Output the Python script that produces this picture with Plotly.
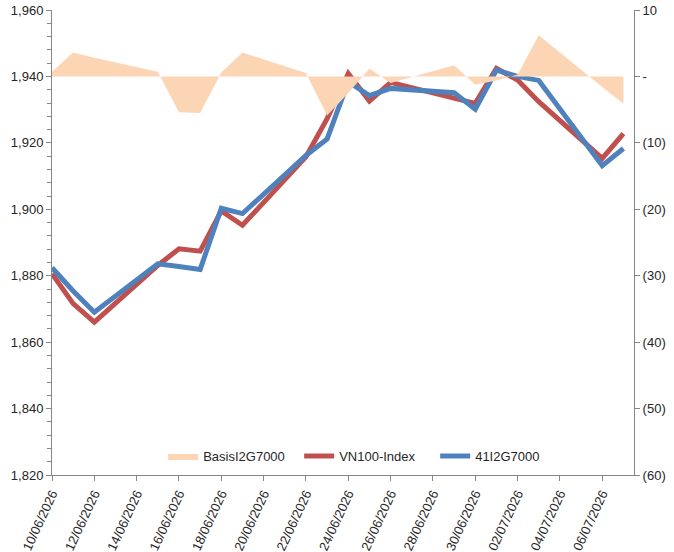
import plotly.graph_objects as go

dates = ["2026-06-10", "2026-06-11", "2026-06-12", "2026-06-15", "2026-06-16", "2026-06-17",
         "2026-06-18", "2026-06-19", "2026-06-22", "2026-06-23", "2026-06-24", "2026-06-25",
         "2026-06-26", "2026-06-29", "2026-06-30", "2026-07-01", "2026-07-02", "2026-07-03",
         "2026-07-06", "2026-07-07"]

vn100 = [1880.6, 1871.6, 1866.0, 1883.1, 1888.1, 1887.4, 1899.5, 1895.2, 1915.8, 1927.3,
         1940.9, 1932.6, 1938.2, 1933.4, 1931.9, 1942.4, 1938.9, 1932.4, 1915.3, 1922.8]

fut = [1882.4, 1875.4, 1869.0, 1883.6, 1882.8, 1881.9, 1900.3, 1898.7, 1916.2, 1921.2,
       1938.4, 1934.2, 1936.4, 1935.1, 1930.1, 1941.9, 1940.0, 1938.8, 1913.1, 1918.3]

basis = [0.7, 3.6, 2.8, 0.7, -5.4, -5.5, 0.6, 3.6, 0.5, -5.9,
         -2.5, 1.2, -1.0, 1.7, -1.25, -0.6, 0.3, 6.2, -1.6, -4.1]

series_names = ["BasisI2G7000", "VN100-Index", "41I2G7000"]

right_tick_vals = [10, 0, -10, -20, -30, -40, -50, -60]
right_tick_text = ["10", "-", "(10)", "(20)", "(30)", "(40)", "(50)", "(60)"]

FONT = "Liberation Sans, Arial, sans-serif"
TXT = "#262626"
AX = "#868686"

fig = go.Figure()
fig.add_trace(go.Scatter(x=dates, y=basis, name=series_names[0], yaxis="y2",
                         mode="lines", fill="tozeroy", fillcolor="#FCD5B4",
                         line=dict(width=0, color="#FCD5B4")))
fig.add_trace(go.Scatter(x=dates, y=vn100, name=series_names[1], mode="lines",
                         line=dict(color="#C0504D", width=5)))
fig.add_trace(go.Scatter(x=dates, y=fut, name=series_names[2], mode="lines",
                         line=dict(color="#4F81BD", width=5)))

fig.update_layout(
    width=674, height=552,
    margin=dict(l=52, r=40, t=10, b=77),
    paper_bgcolor="white", plot_bgcolor="white",
    font=dict(family=FONT, size=13, color=TXT),
    showlegend=True,
    legend=dict(orientation="h", x=0.191, xanchor="left", y=0.041, yanchor="middle",
                bgcolor="rgba(0,0,0,0)", font=dict(size=13, color=TXT),
                itemwidth=30, tracegroupgap=0, entrywidth=91, entrywidthmode="pixels"),
    xaxis=dict(type="date", range=["2026-06-10", "2026-07-07 12:00"],
               tick0="2026-06-10", dtick=2 * 86400000, tickformat="%d/%m/%Y",
               tickangle=-65, ticks="outside", ticklen=5, tickcolor=AX,
               showline=True, linecolor=AX, linewidth=1, showgrid=False,
               zeroline=False, automargin=False, tickfont=dict(size=13, color=TXT)),
    yaxis=dict(range=[1820, 1960], dtick=20, tickformat=",", showgrid=False,
               showline=True, linecolor=AX, linewidth=1, ticks="outside", ticklen=5,
               tickcolor=AX, zeroline=False, automargin=False,
               ticklabeloverflow="allow",
               minor=dict(dtick=4, ticks="outside", ticklen=4, tickcolor=AX),
               tickfont=dict(size=13, color=TXT)),
    yaxis2=dict(range=[-60, 10], overlaying="y", side="right", showgrid=False,
                tickvals=right_tick_vals, ticktext=right_tick_text,
                showline=True, linecolor=AX, linewidth=1, ticks="outside", ticklen=5,
                tickcolor=AX, zeroline=False, automargin=False,
                ticklabeloverflow="allow",
                tickfont=dict(size=13, color=TXT)),
)

fig.write_html("out.html", config={"displayModeBar": False},
               post_script="document.body.style.margin='0';")
